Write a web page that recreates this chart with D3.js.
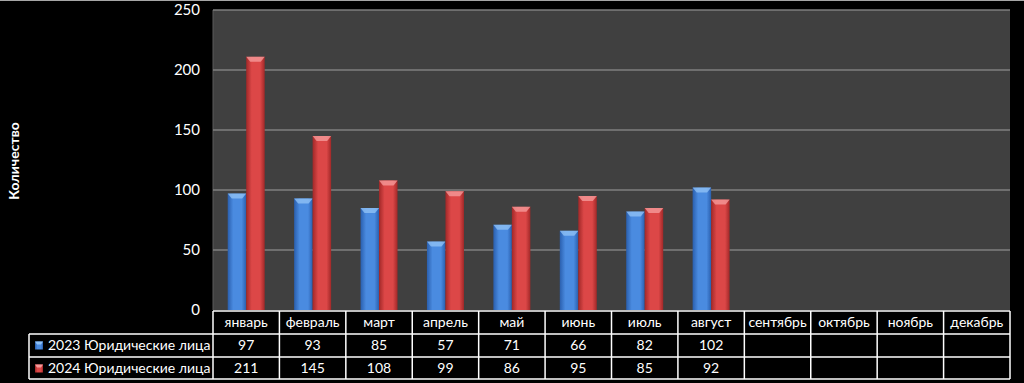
<!DOCTYPE html>
<meta charset="utf-8">
<title>Юридические лица</title>
<style>
  body { margin: 0; background: #000; }
  svg { display: block; }
  text { font-family: Lato, "Open Sans", sans-serif; fill: #fff; }
</style>
<svg width="1024" height="383"></svg>
<script src="https://d3js.org/d3.v7.min.js"></script>
<script>

// data
var months = ["январь", "февраль", "март", "апрель", "май", "июнь", "июль", "август",
              "сентябрь", "октябрь", "ноябрь", "декабрь"];
var series = ["2023 Юридические лица", "2024 Юридические лица"];
var values2023 = [97, 93, 85, 57, 71, 66, 82, 102, null, null, null, null];
var values2024 = [211, 145, 108, 99, 86, 95, 85, 92, null, null, null, null];
var yTicks = [0, 50, 100, 150, 200, 250];

var rows = [values2023, values2024];
var colors = [
  {mid: "#4a8be0", edge: "#2a5fae", top: "#8ec0f5"},
  {mid: "#dc4747", edge: "#a12828", top: "#f59a9a"}
];

var svg = d3.select("svg"),
    width = 1024,
    height = 383;

var plotLeft = 213, plotRight = 1010, plotTop = 10, plotBottom = 310;

var x = d3.scaleBand()
    .domain(months)
    .range([plotLeft, plotRight]);

var xs = d3.scaleBand()
    .domain([0, 1])
    .range([0, 37]);

var y = d3.scaleLinear()
    .domain([0, 250])
    .range([plotBottom, plotTop]);

// gradients for the bars
var defs = svg.append("defs");
colors.forEach(function(c, i) {
  var g = defs.append("linearGradient")
      .attr("id", "bar" + i)
      .attr("x1", 0).attr("x2", 1).attr("y1", 0).attr("y2", 0);
  g.append("stop").attr("offset", "0%").attr("stop-color", c.edge);
  g.append("stop").attr("offset", "30%").attr("stop-color", c.mid);
  g.append("stop").attr("offset", "75%").attr("stop-color", c.mid);
  g.append("stop").attr("offset", "100%").attr("stop-color", c.edge);
});

// thin line at very top
svg.append("line")
    .attr("x1", 0).attr("x2", width)
    .attr("y1", 0.5).attr("y2", 0.5)
    .attr("stroke", "#a6a6a6");

// plot background
svg.append("rect")
    .attr("x", plotLeft).attr("y", plotTop)
    .attr("width", plotRight - plotLeft).attr("height", plotBottom - plotTop)
    .attr("fill", "#404040");

svg.append("line")
    .attr("x1", plotLeft).attr("x2", plotLeft)
    .attr("y1", plotTop).attr("y2", plotBottom)
    .attr("stroke", "#5a5a5a");

// gridlines
svg.append("g")
  .selectAll("line")
  .data(yTicks.filter(function(d) { return d > 0; }))
  .enter().append("line")
    .attr("x1", plotLeft).attr("x2", plotRight)
    .attr("y1", function(d) { return y(d); })
    .attr("y2", function(d) { return y(d); })
    .attr("stroke", "#7f7f7f")
    .attr("stroke-width", 1.5);

// y tick labels
svg.append("g")
  .selectAll("text")
  .data(yTicks)
  .enter().append("text")
    .attr("x", 200)
    .attr("y", function(d) { return y(d); })
    .attr("dy", "0.35em")
    .attr("text-anchor", "end")
    .style("font-size", "15px")
    .text(function(d) { return d; });

// y axis title
svg.append("text")
    .attr("transform", "translate(19,161)rotate(-90)")
    .attr("text-anchor", "middle")
    .style("font-size", "14px")
    .style("font-weight", "bold")
    .text("Количество");

// bars
rows.forEach(function(vals, s) {
  var g = svg.append("g");
  var data = months.map(function(m, i) { return {m: m, v: vals[i]}; })
      .filter(function(d) { return d.v != null; });
  var bx = function(d) { return x(d.m) + x.bandwidth() / 2 - 18.5 + xs(s); };
  g.selectAll("rect")
    .data(data)
    .enter().append("rect")
      .attr("x", bx)
      .attr("y", function(d) { return y(d.v); })
      .attr("width", xs.bandwidth())
      .attr("height", function(d) { return plotBottom - y(d.v); })
      .attr("fill", "url(#bar" + s + ")");
  // bevelled top
  g.selectAll("path")
    .data(data)
    .enter().append("path")
      .attr("d", function(d) {
        var x0 = bx(d), w = xs.bandwidth(), y0 = y(d.v);
        return "M" + x0 + "," + y0 + "L" + (x0 + w) + "," + y0 +
               "L" + (x0 + w - 4) + "," + (y0 + 5) + "L" + (x0 + 4) + "," + (y0 + 5) + "Z";
      })
      .attr("fill", colors[s].top)
      .attr("opacity", 0.8);
});

// data table
var tableTop = 311, rowH = 23, legendLeft = 29;
var colX = months.map(function(m) { return x(m); });

var tg = svg.append("g")
    .attr("stroke", "#fff")
    .attr("stroke-width", 1.5);

// horizontal lines
[tableTop, tableTop + rowH, tableTop + 2 * rowH, tableTop + 3 * rowH - 1].forEach(function(yy, i) {
  tg.append("line")
      .attr("x1", i === 0 ? plotLeft : legendLeft).attr("x2", plotRight)
      .attr("y1", yy).attr("y2", yy);
});
// vertical lines
tg.append("line")
    .attr("x1", legendLeft).attr("x2", legendLeft)
    .attr("y1", tableTop + rowH).attr("y2", tableTop + 3 * rowH - 1);
colX.concat([plotRight]).forEach(function(xx) {
  tg.append("line")
      .attr("x1", xx).attr("x2", xx)
      .attr("y1", tableTop).attr("y2", tableTop + 3 * rowH - 1);
});

// month headers
svg.append("g")
  .selectAll("text")
  .data(months)
  .enter().append("text")
    .attr("x", function(d) { return x(d) + x.bandwidth() / 2; })
    .attr("y", tableTop + rowH / 2)
    .attr("dy", "0.35em")
    .attr("text-anchor", "middle")
    .style("font-size", "14px")
    .text(function(d) { return d; });

// series rows
rows.forEach(function(vals, s) {
  var cy = tableTop + rowH * (s + 1) + rowH / 2;
  svg.append("rect")
      .attr("x", 35).attr("y", cy - 4)
      .attr("width", 8).attr("height", 8)
      .attr("fill", "url(#bar" + s + ")");
  svg.append("path")
      .attr("d", "M35," + (cy - 4) + "L43," + (cy - 4) + "L41," + (cy - 1) + "L37," + (cy - 1) + "Z")
      .attr("fill", colors[s].top);
  svg.append("text")
      .attr("x", 48).attr("y", cy)
      .attr("dy", "0.35em")
      .style("font-size", "14px")
      .text(series[s]);
  svg.append("g")
    .selectAll("text")
    .data(months.map(function(m, i) { return {m: m, v: vals[i]}; }).filter(function(d) { return d.v != null; }))
    .enter().append("text")
      .attr("x", function(d) { return x(d.m) + x.bandwidth() / 2; })
      .attr("y", cy)
      .attr("dy", "0.35em")
      .attr("text-anchor", "middle")
      .style("font-size", "14px")
      .text(function(d) { return d.v; });
});

</script>
